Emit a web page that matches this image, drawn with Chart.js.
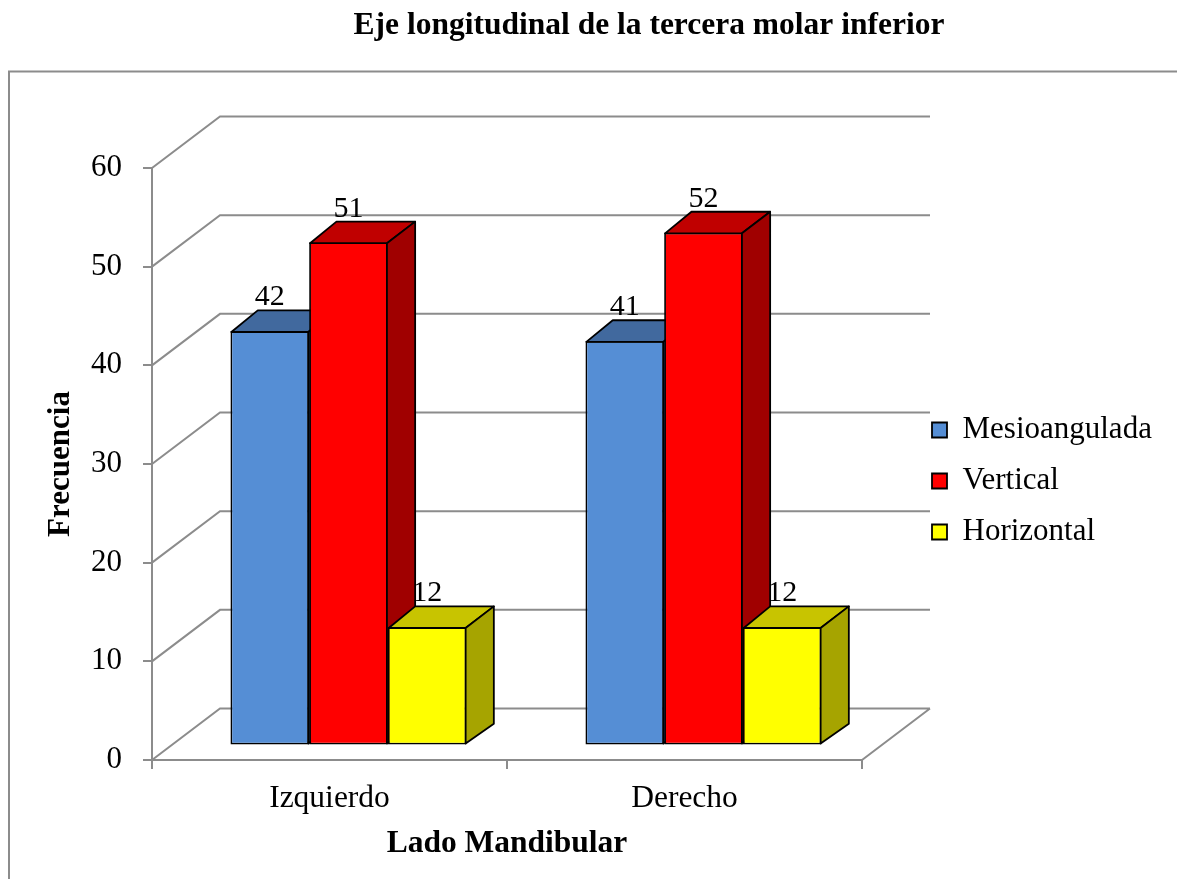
<!DOCTYPE html>
<html><head><meta charset="utf-8">
<script src="https://cdn.jsdelivr.net/npm/chart.js@4.4.0/dist/chart.umd.min.js"></script>
<style>html,body{margin:0;padding:0;background:#fff;overflow:hidden}canvas{display:block}</style>
</head><body>
<canvas id="c" width="1177" height="879"></canvas>
<script>
// ---- data ----
const categories = ['Izquierdo', 'Derecho'];
const seriesNames = ['Mesioangulada', 'Vertical', 'Horizontal'];
const mesioangulada = [42, 41];
const vertical = [51, 52];
const horizontal = [12, 12];
const yTicks = [0, 10, 20, 30, 40, 50, 60];

// ---- style ----
const FONT = 'Liberation Serif, Times New Roman, serif';
const frontColors = ['#558ED5', '#FF0000', '#FFFF00'];
const topColors = ['#41699E', '#C00000', '#C8C400'];
const sideColors = ['#37588A', '#A00000', '#A6A400'];
const GRID_COLOR = '#8c8c8c';
const WALL = {dx: 68, dy: -51.5};
const BAR_SHIFT = {dx: 19, dy: -14.5};
const BAR_DEPTH = {dx: 27.3, dy: -20.7};

const threeD = {
  id: 'threeD',
  beforeDraw(chart) {
    const ctx = chart.ctx;
    ctx.save();
    ctx.strokeStyle = GRID_COLOR;
    ctx.lineWidth = 2;
    ctx.strokeRect(9, 71.5, 1400, 1000);
    ctx.restore();
  },
  afterLayout(chart) {
    const lg = chart.legend;
    if (lg) { lg.left += 50; lg.right += 50; lg.top += 17; lg.bottom += 17; }
    const t = chart.titleBlock;
    if (t) { t.left += 98; t.right += 98; }
  },
  beforeDatasetsDraw(chart) {
    const ctx = chart.ctx;
    const a = chart.chartArea;
    const ys = chart.scales.y;
    ctx.save();
    ctx.strokeStyle = GRID_COLOR;
    ctx.lineWidth = 2;
    ctx.beginPath();
    yTicks.forEach(v => {
      const py = ys.getPixelForValue(v);
      ctx.moveTo(a.left, py);
      ctx.lineTo(a.left + WALL.dx, py + WALL.dy);
      ctx.lineTo(a.right + WALL.dx, py + WALL.dy);
    });
    const pb = ys.getPixelForValue(0);
    ctx.moveTo(a.right, pb);
    ctx.lineTo(a.right + WALL.dx, pb + WALL.dy);
    ctx.stroke();
    ctx.restore();
  },
  beforeDatasetDraw() { return false; },
  afterDatasetsDraw(chart) {
    const ctx = chart.ctx;
    ctx.save();
    ctx.translate(BAR_SHIFT.dx, BAR_SHIFT.dy);
    const metas = chart.data.datasets.map((d, i) => chart.getDatasetMeta(i));
    const n = chart.data.labels.length;
    for (let j = 0; j < n; j++) {
      metas.forEach((meta, i) => {
        const el = meta.data[j];
        if (!el) return;
        el.draw(ctx);
        const p = el.getProps(['x', 'y', 'base', 'width'], true);
        const L = p.x - p.width / 2, R = p.x + p.width / 2, T = p.y, B = p.base;
        const dx = BAR_DEPTH.dx, dy = BAR_DEPTH.dy;
        ctx.lineWidth = 1.8;
        ctx.strokeStyle = '#000';
        ctx.lineJoin = 'round';
        // top face
        ctx.beginPath();
        ctx.moveTo(L + 0.9, T + 0.9); ctx.lineTo(L + dx, T + dy); ctx.lineTo(R + dx, T + dy); ctx.lineTo(R - 0.9, T + 0.9); ctx.closePath();
        ctx.fillStyle = topColors[i]; ctx.fill(); ctx.stroke();
        // side face
        ctx.beginPath();
        ctx.moveTo(R - 0.9, T + 0.9); ctx.lineTo(R + dx, T + dy); ctx.lineTo(R + dx, B + dy); ctx.lineTo(R - 0.9, B - 0.9); ctx.closePath();
        ctx.fillStyle = sideColors[i]; ctx.fill(); ctx.stroke();
      });
    }
    // value labels
    ctx.fillStyle = '#000';
    ctx.font = '30px ' + FONT;
    ctx.textAlign = 'center';
    ctx.textBaseline = 'alphabetic';
    metas.forEach((meta, i) => {
      meta.data.forEach((el, j) => {
        const p = el.getProps(['x', 'y'], true);
        ctx.fillText(String(chart.data.datasets[i].data[j]), p.x, p.y + BAR_DEPTH.dy - 5);
      });
    });
    ctx.restore();
  }
};

const seriesData = [mesioangulada, vertical, horizontal];
const datasets = seriesData.map((data, i) => ({
  label: seriesNames[i],
  data: data,
  backgroundColor: frontColors[i],
  borderColor: '#000',
  borderWidth: 1.8,
  borderSkipped: false,
  categoryPercentage: 0.665,
  barPercentage: 1
}));

new Chart(document.getElementById('c'), {
  type: 'bar',
  data: {labels: categories, datasets: datasets},
  plugins: [threeD],
  options: {
    responsive: false,
    animation: false,
    events: [],
    layout: {padding: {left: 0, right: 75, top: 0, bottom: 0}},
    plugins: {
      title: {
        display: true,
        text: 'Eje longitudinal de la tercera molar inferior',
        color: '#000',
        font: {family: FONT, size: 31.5, weight: 'bold'},
        padding: {top: 7, bottom: 123.2}
      },
      legend: {
        position: 'right',
        fullSize: false,
        maxWidth: 240,
        align: 'center',
        labels: {
          font: {family: FONT, size: 31},
          color: '#000',
          boxWidth: 15,
          boxHeight: 15,
          padding: 20
        }
      },
      tooltip: {enabled: false}
    },
    scales: {
      x: {
        grid: {display: true, drawOnChartArea: false, drawTicks: true, tickLength: 9, color: GRID_COLOR, lineWidth: 2, offset: true},
        border: {display: true, color: GRID_COLOR, width: 2},
        ticks: {font: {family: FONT, size: 31.5}, color: '#000', padding: 11},
        title: {display: true, text: 'Lado Mandibular', color: '#000', font: {family: FONT, size: 31.5, weight: 'bold'}, padding: {top: 0, bottom: 16}},
        afterFit(s) { s.height = 119; }
      },
      y: {
        min: 0, max: 60,
        afterBuildTicks(s) { s.ticks = yTicks.map(v => ({value: v})); },
        grid: {display: true, drawOnChartArea: false, drawTicks: true, tickLength: 9, color: GRID_COLOR, lineWidth: 2},
        border: {display: true, color: GRID_COLOR, width: 2},
        ticks: {font: {family: FONT, size: 31}, color: '#000', padding: 21},
        title: {display: true, text: 'Frecuencia', color: '#000', font: {family: FONT, size: 31, weight: 'bold'}, padding: {top: 42, bottom: 0}},
        afterFit(s) { s.width = 152; }
      }
    }
  }
});
</script>
</body></html>
